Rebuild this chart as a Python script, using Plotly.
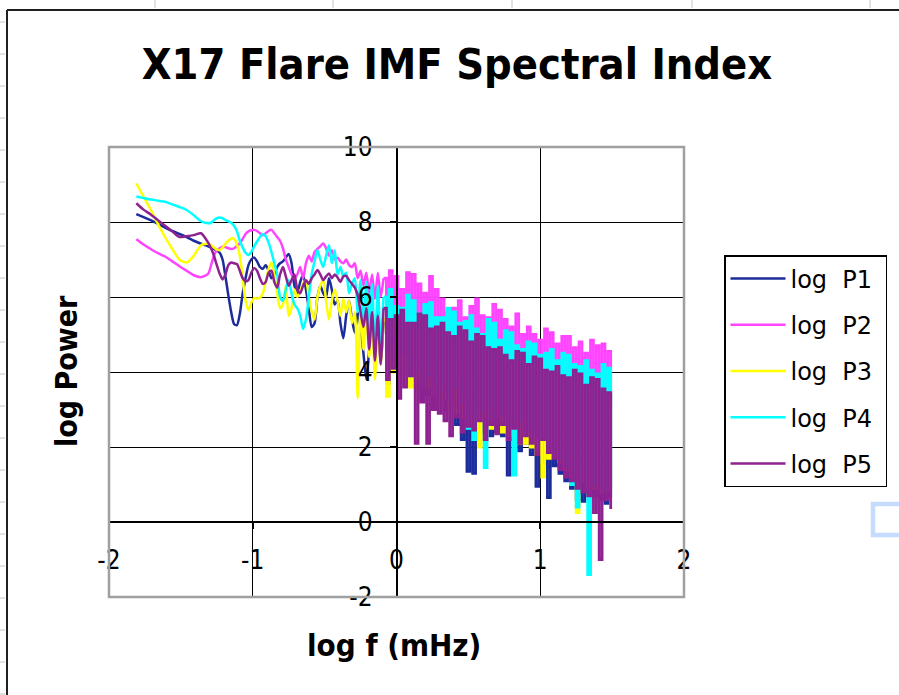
import plotly.graph_objects as go

# ---------------- data ----------------
TITLE = "X17 Flare IMF Spectral Index"
X_TITLE = "log f (mHz)"
Y_TITLE = "log Power"
SERIES_NAMES = ["log\u00a0\u00a0P1\u00a0", "log\u00a0\u00a0P2\u00a0", "log\u00a0\u00a0P3\u00a0",
                "log\u00a0\u00a0P4\u00a0", "log\u00a0\u00a0P5\u00a0"]
X_TICKS = [-2, -1, 0, 1, 2]
X_TICK_TEXT = ["-2", "-1", "0", "1", "2"]
Y_TICKS = [-2, 0, 2, 4, 6, 8, 10]
Y_TICK_TEXT = ["-2", "0", "2", "4", "6", "8", "10"]

LOG_F = [
    -1.81, -1.76, -1.71, -1.66, -1.61, -1.56, -1.51, -1.46, -1.41, -1.36, -1.31,
    -1.29, -1.27, -1.25, -1.23, -1.21, -1.19, -1.17, -1.15, -1.13, -1.11,
    -1.09, -1.07, -1.05, -1.03, -1.01, -0.99, -0.97, -0.95, -0.93, -0.91,
    -0.89, -0.87, -0.85, -0.83, -0.81, -0.79, -0.77, -0.75, -0.73, -0.71,
    -0.69, -0.67, -0.65, -0.63, -0.61, -0.59, -0.57, -0.55, -0.53, -0.51,
    -0.49, -0.47, -0.45, -0.43, -0.41, -0.39, -0.37, -0.35, -0.33, -0.31,
    -0.29, -0.27, -0.25, -0.23, -0.21, -0.19, -0.17, -0.15, -0.13, -0.11,
    -0.09, -0.07, -0.05, -0.03, -0.01, 0.01, 0.03, 0.05, 0.07, 0.09,
    0.11, 0.13, 0.15, 0.17, 0.19, 0.21, 0.23, 0.25, 0.27, 0.29,
    0.31, 0.33, 0.35, 0.37, 0.39, 0.41, 0.43, 0.45, 0.47, 0.49,
    0.51, 0.53, 0.55, 0.57, 0.59, 0.61, 0.63, 0.65, 0.67, 0.69,
    0.71, 0.73, 0.75, 0.77, 0.79, 0.81, 0.83, 0.85, 0.87, 0.89,
    0.91, 0.93, 0.95, 0.97, 0.99, 1.01, 1.03, 1.05, 1.07, 1.09,
    1.11, 1.13, 1.15, 1.17, 1.19, 1.21, 1.23, 1.25, 1.27, 1.29,
    1.31, 1.33, 1.35, 1.37, 1.39, 1.41, 1.43, 1.45, 1.47, 1.49,
]

LOG_P1 = [
    8.21, 8.13, 8.05, 7.95, 7.85, 7.76, 7.68, 7.6, 7.5, 7.42, 7.35,
    7.32, 7.28, 7.24, 7.18, 7.0, 6.55, 6.05, 5.6, 5.28, 5.25,
    5.55, 6.1, 6.5, 6.85, 7.0, 7.05, 6.95, 6.8, 6.75, 6.85,
    6.7, 6.5, 6.6, 6.8, 6.9, 6.95, 7.05, 7.15, 6.9, 6.3,
    6.1, 6.4, 6.6, 6.2, 5.7, 5.2, 5.3, 6.0, 6.3, 6.1,
    6.0, 6.5, 6.2, 5.8, 5.9, 5.3, 4.9, 5.5, 5.9, 5.4,
    5.05, 5.6, 5.2, 4.5, 3.8, 4.6, 5.5, 4.7, 5.6, 4.3,
    5.3, 3.7, 5.4, 4.2, 5.5, 3.9, 5.3, 4.0, 5.35, 3.8,
    5.2, 3.6, 5.3, 3.3, 5.1, 3.4, 5.2, 3.0, 5.0, 3.2,
    5.1, 3.0, 4.9, 3.1, 5.0, 2.6, 4.8, 2.2, 4.9, 1.35,
    4.7, 1.3, 4.8, 2.4, 4.6, 2.6, 4.7, 2.3, 4.5, 2.4,
    4.55, 2.3, 4.3, 1.25, 4.45, 2.2, 4.2, 1.9, 4.35, 2.1,
    4.1, 1.8, 4.25, 0.95, 4.0, 1.6, 4.15, 0.65, 3.95, 1.5,
    4.05, 1.3, 3.8, 1.1, 3.95, 0.9, 3.7, 0.6, 3.85, 0.55,
    3.6, 0.8, 3.75, 0.7, 3.5, 0.6, 3.65, 0.5, 3.4, 0.65,
]

LOG_P2 = [
    7.54, 7.4, 7.28, 7.17, 7.08, 6.95, 6.82, 6.7, 6.58, 6.53, 6.62,
    6.85, 7.1, 7.25, 7.3, 7.34, 7.33, 7.3, 7.28, 7.3, 7.36,
    7.43, 7.55, 7.68, 7.75, 7.78, 7.79, 7.76, 7.7, 7.65, 7.7,
    7.76, 7.79, 7.7, 7.6, 7.5, 7.3, 7.0, 6.8, 6.6, 6.5,
    6.6, 6.8, 6.5, 6.9, 7.1, 6.95, 7.2, 7.28, 7.35, 7.43,
    7.3, 7.1, 7.25, 7.0, 7.05, 6.95, 6.9, 7.0, 6.85, 6.8,
    6.9, 6.5, 6.7, 6.3, 6.65, 6.1, 6.6, 5.95, 6.65, 6.0,
    6.5, 5.8, 6.7, 5.5, 6.55, 5.6, 6.2, 5.3, 6.65, 5.5,
    6.6, 5.1, 6.35, 5.0, 6.1, 4.8, 6.55, 5.0, 6.2, 4.7,
    5.95, 4.6, 5.6, 4.5, 5.7, 4.4, 5.9, 4.3, 5.45, 4.3,
    5.75, 4.2, 5.95, 4.3, 5.5, 3.0, 5.45, 4.2, 5.8, 4.1,
    5.65, 4.1, 5.4, 4.0, 5.2, 3.9, 5.55, 3.9, 5.0, 3.8,
    5.2, 3.8, 5.0, 3.7, 4.85, 3.7, 5.15, 3.6, 5.05, 3.6,
    4.75, 3.5, 4.95, 3.4, 4.95, 3.4, 4.65, 3.3, 4.8, 3.3,
    4.5, 3.2, 4.85, 3.2, 4.7, 3.1, 4.75, 3.1, 4.55, 3.0,
]

LOG_P3 = [
    9.03, 8.68, 8.33, 7.95, 7.6, 7.28, 7.0, 6.92, 7.1, 7.38, 7.42,
    7.38, 7.32, 7.27, 7.25, 7.32, 7.42, 7.5, 7.56, 7.55, 7.4,
    7.1, 6.5, 5.9, 5.65, 5.85, 5.97, 5.96, 5.98, 6.1, 6.4,
    6.75, 6.92, 6.6, 6.1, 5.7, 5.8, 6.3, 5.5, 5.7, 6.2,
    6.0, 6.15, 6.35, 6.45, 6.0, 5.6, 5.4, 6.0, 6.3, 6.45,
    5.9, 5.4, 5.9, 6.2, 5.9, 5.5, 5.95, 5.6, 5.9, 5.3,
    5.6, 3.3, 5.7, 4.6, 5.6, 4.4, 5.5, 3.8, 5.4, 4.2,
    5.4, 3.35, 5.15, 4.0, 5.3, 3.8, 5.05, 4.0, 5.2, 3.6,
    5.0, 3.5, 5.15, 3.8, 4.9, 3.6, 5.05, 3.4, 4.85, 3.1,
    5.0, 3.3, 4.75, 3.0, 4.9, 2.9, 4.65, 2.8, 4.8, 2.7,
    4.55, 2.6, 4.7, 2.0, 4.45, 2.7, 4.6, 2.5, 4.35, 3.1,
    4.45, 2.4, 4.2, 2.3, 4.35, 2.2, 4.1, 2.1, 4.25, 2.1,
    4.0, 2.0, 4.15, 1.8, 3.9, 1.2, 4.05, 1.7, 3.8, 1.85,
    3.95, 1.6, 3.7, 1.4, 3.85, 1.3, 3.6, 0.25, 3.75, 1.1,
    3.5, 1.0, 3.65, 0.9, 3.4, 0.8, 3.55, 0.9, 3.3, 0.8,
]

LOG_P4 = [
    8.68, 8.64, 8.6, 8.57, 8.54, 8.47, 8.4, 8.32, 8.18, 8.02, 7.97,
    7.98, 8.05, 8.1, 8.12, 8.1, 8.05, 8.02, 7.98, 7.9, 7.75,
    7.5, 7.32, 7.18, 7.12, 7.2, 7.35, 7.48, 7.6, 7.68, 7.62,
    7.45, 7.2, 6.9, 6.6, 6.0, 5.9, 6.2, 6.45, 6.1, 5.8,
    5.7, 5.5, 5.15, 5.4, 6.0, 6.6, 6.95, 7.25, 7.0, 6.8,
    7.1, 7.38, 6.9, 7.25, 6.6, 6.8, 6.55, 6.65, 6.1, 6.35,
    6.5, 5.6, 6.45, 5.3, 6.4, 5.1, 6.35, 4.6, 6.3, 4.8,
    6.0, 4.5, 6.2, 4.8, 5.75, 4.2, 5.7, 4.5, 6.05, 3.9,
    5.9, 4.0, 5.55, 3.6, 5.8, 3.9, 5.85, 3.4, 5.45, 3.7,
    5.45, 3.5, 5.7, 3.3, 5.6, 3.6, 5.3, 3.2, 5.35, 2.5,
    5.5, 2.2, 5.15, 3.0, 5.0, 1.45, 5.4, 3.1, 5.3, 2.8,
    4.85, 2.9, 5.1, 2.6, 5.05, 1.25, 4.7, 2.7, 4.6, 2.5,
    4.8, 2.4, 4.75, 2.3, 4.45, 2.2, 4.5, 2.0, 4.6, 1.9,
    4.3, 1.7, 4.5, 1.5, 4.45, 1.0, 4.2, 0.4, 4.15, 1.2,
    4.3, -1.4, 4.05, 1.0, 3.95, 0.9, 4.2, 0.8, 4.1, 0.9,
]

LOG_P5 = [
    8.5, 8.33, 8.2, 8.05, 7.9, 7.75, 7.6, 7.62, 7.65, 7.7, 7.45,
    7.3, 7.1, 6.85, 6.62, 6.47, 6.6, 6.85, 6.92, 6.9, 6.88,
    6.7, 6.5, 6.42, 6.45, 6.65, 6.77, 6.7, 6.5, 6.35, 6.4,
    6.65, 6.7, 6.4, 6.25, 6.6, 6.8, 6.55, 6.3, 6.45, 6.6,
    6.2, 6.1, 6.3, 6.45, 6.35, 6.5, 6.6, 6.72, 6.6, 6.45,
    6.55, 6.63, 6.5, 6.6, 6.52, 6.4, 6.55, 6.56, 6.45, 6.35,
    6.25, 6.05, 5.6, 5.2, 5.7, 4.6, 5.6, 4.3, 5.5, 4.2,
    5.7, 3.8, 5.4, 4.1, 5.5, 3.3, 5.65, 3.6, 5.3, 3.9,
    5.3, 2.1, 5.55, 3.2, 5.5, 2.1, 5.15, 3.0, 5.2, 2.9,
    5.3, 2.7, 5.05, 2.3, 4.95, 2.8, 5.2, 2.4, 5.1, 2.55,
    4.8, 2.45, 5.0, 2.7, 4.95, 2.2, 4.65, 2.6, 4.6, 2.35,
    4.65, 2.6, 4.45, 2.2, 4.3, 2.5, 4.55, 2.1, 4.5, 2.3,
    4.2, 2.1, 4.4, 1.8, 4.35, 2.2, 4.05, 1.85, 4.0, 1.7,
    4.15, 1.4, 3.9, 1.2, 3.85, 1.1, 4.05, 0.9, 3.95, 0.8,
    3.65, 0.7, 3.85, 0.25, 3.8, -1.0, 3.55, 0.6, 3.45, 0.35,
]

SERIES = [LOG_P1, LOG_P2, LOG_P3, LOG_P4, LOG_P5]
COLORS = ["#1c2c9c", "#ff44ff", "#ffff00", "#00ffff", "#8e2290"]
# index in LOG_F where the spectrum becomes densely sampled (log f = -0.09)
DENSE_START = 71

# ---------------- layout geometry ----------------
W, H = 899, 695
ML, MR, MT, MB = 109, 215, 147, 98
PW = W - ML - MR
PH = H - MT - MB
X_RANGE = [-2, 2]
Y_RANGE = [-2, 10]
FONT = "DejaVu Sans Condensed, DejaVu Sans, sans-serif"
FONT_WIDE = "DejaVu Sans, sans-serif"


def px_x(px):
    return (px - ML) / PW


def px_y(py):
    return (H - MB - py) / PH


fig = go.Figure()
for name, vals, color in zip(SERIES_NAMES, SERIES, COLORS):
    # smooth low-frequency part
    fig.add_trace(go.Scatter(
        x=LOG_F[:DENSE_START + 1], y=vals[:DENSE_START + 1], mode="lines",
        name=name, legendgroup=name,
        line=dict(color=color, width=2.5, shape="spline", smoothing=0.7),
        hoverinfo="skip",
    ))
    # densely sampled high-frequency part
    fig.add_trace(go.Scatter(
        x=LOG_F[DENSE_START:], y=vals[DENSE_START:], mode="lines",
        name=name, legendgroup=name, showlegend=False,
        line=dict(color=color, width=2.8, shape="hv"),
        hoverinfo="skip",
    ))

axis_common = dict(
    showgrid=True, gridcolor="black", gridwidth=1, zeroline=False,
    showline=True, linecolor="black", linewidth=1.5,
    ticks="outside", ticklen=6, tickwidth=1.5, tickcolor="black",
    tickmode="array", anchor="free",
    tickfont=dict(family=FONT, size=26, color="black"),
)

fig.update_layout(
    width=W, height=H,
    margin=dict(l=ML, r=MR, t=MT, b=MB, autoexpand=False),
    paper_bgcolor="white", plot_bgcolor="white",
    title=dict(text=TITLE, x=457 / W, xref="container", xanchor="center",
               y=1 - 64 / H, yref="container", yanchor="middle",
               font=dict(family=FONT, size=43, color="black", weight="bold")),
    xaxis=dict(axis_common, range=X_RANGE, tickvals=X_TICKS, ticktext=X_TICK_TEXT,
               position=(0 - Y_RANGE[0]) / (Y_RANGE[1] - Y_RANGE[0]),
               ticklabelstandoff=9),
    yaxis=dict(axis_common, range=Y_RANGE, tickvals=Y_TICKS, ticktext=Y_TICK_TEXT,
               position=(0 - X_RANGE[0]) / (X_RANGE[1] - X_RANGE[0]),
               ticklabelstandoff=12),
    showlegend=True,
    legend=dict(x=px_x(724), y=px_y(255), xanchor="left", yanchor="top",
                bordercolor="black", borderwidth=1.5, bgcolor="white",
                font=dict(family=FONT_WIDE, size=24, color="black"),
                tracegroupgap=12, itemwidth=55),
)

shapes = []
# plot-area border
shapes.append(dict(type="rect", xref="paper", yref="paper", x0=0, x1=1, y0=0, y1=1,
                   line=dict(color="#a0a0a0", width=2.5), layer="above"))
# chart frame (left & top)
shapes.append(dict(type="line", xref="paper", yref="paper", x0=px_x(7), x1=px_x(7),
                   y0=px_y(10), y1=px_y(700), line=dict(color="#202020", width=2)))
shapes.append(dict(type="line", xref="paper", yref="paper", x0=px_x(7), x1=px_x(905),
                   y0=px_y(10), y1=px_y(10), line=dict(color="#202020", width=2)))
# spreadsheet cell ticks outside the chart frame
for cx in [155, 333, 512, 692, 870]:
    shapes.append(dict(type="line", xref="paper", yref="paper", x0=px_x(cx), x1=px_x(cx),
                       y0=px_y(0), y1=px_y(8), line=dict(color="#c4c4c4", width=1)))
for k in range(22):
    cy = 22 + 32 * k
    shapes.append(dict(type="line", xref="paper", yref="paper", x0=px_x(0), x1=px_x(5),
                       y0=px_y(cy), y1=px_y(cy), line=dict(color="#c4c4c4", width=1)))
# selection handle square at right edge
shapes.append(dict(type="rect", xref="paper", yref="paper", x0=px_x(873), x1=px_x(910),
                   y0=px_y(504), y1=px_y(535), line=dict(color="#c6dcff", width=4.5)))
fig.update_layout(shapes=shapes)

fig.add_annotation(text=X_TITLE, xref="paper", yref="paper", x=px_x(394), y=px_y(645),
                   xanchor="center", yanchor="middle", showarrow=False,
                   font=dict(family=FONT, size=31, color="black", weight="bold"))
fig.add_annotation(text=Y_TITLE, xref="paper", yref="paper", x=px_x(66), y=px_y(371),
                   xanchor="center", yanchor="middle", showarrow=False, textangle=-90,
                   font=dict(family=FONT, size=30, color="black", weight="bold"))

fig.write_html("out.html",
               config={"displayModeBar": False},
               post_script="document.body.style.margin='0px';"
                           "document.body.style.overflow='hidden';")
